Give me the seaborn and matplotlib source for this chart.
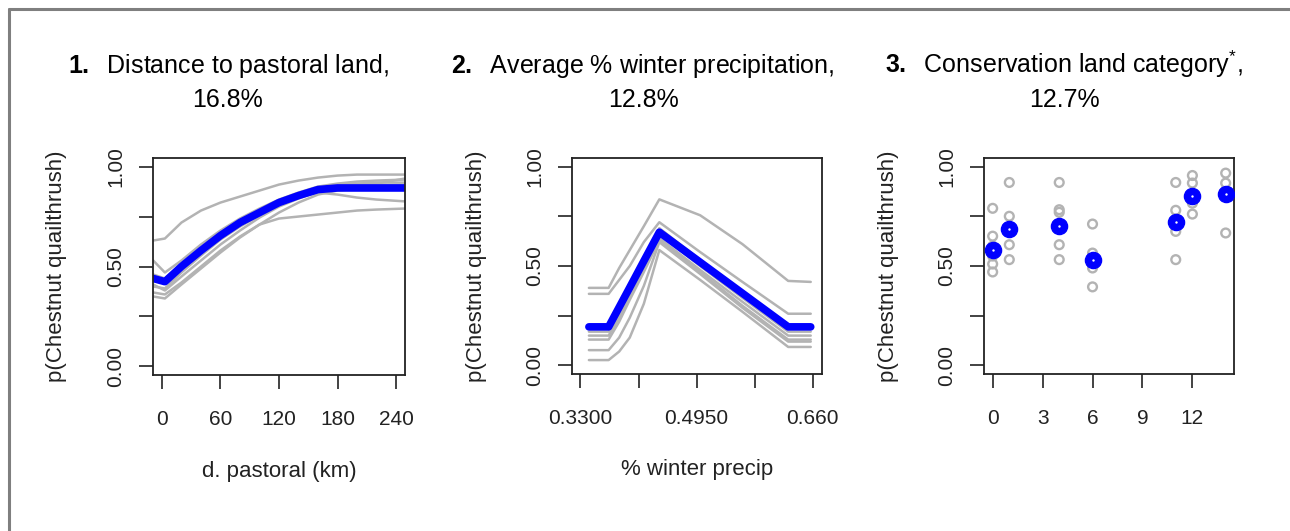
import numpy as np
import pandas as pd
import matplotlib
matplotlib.use('Agg')
import matplotlib.pyplot as plt
from matplotlib.lines import Line2D
import seaborn as sns

# ---- panel 1: distance to pastoral land (km) ----
dist_x = [-9, 3, 20, 40, 60, 80, 100, 120, 140, 160, 180, 200, 220, 249]
dist_mean = [0.44, 0.424, 0.50, 0.58, 0.655, 0.72, 0.77, 0.82, 0.855, 0.885, 0.893, 0.893, 0.893, 0.893]
dist_runs = [
    [0.63, 0.64, 0.72, 0.78, 0.82, 0.85, 0.88, 0.91, 0.93, 0.945, 0.955, 0.96, 0.96, 0.96],
    [0.37, 0.36, 0.42, 0.50, 0.58, 0.65, 0.71, 0.74, 0.75, 0.76, 0.77, 0.78, 0.785, 0.79],
    [0.40, 0.39, 0.47, 0.555, 0.635, 0.70, 0.755, 0.805, 0.845, 0.87, 0.86, 0.845, 0.835, 0.826],
    [0.53, 0.47, 0.53, 0.61, 0.68, 0.74, 0.79, 0.835, 0.87, 0.90, 0.915, 0.925, 0.93, 0.935],
    [0.46, 0.44, 0.51, 0.59, 0.665, 0.73, 0.78, 0.83, 0.865, 0.895, 0.91, 0.915, 0.92, 0.92],
    [0.41, 0.38, 0.45, 0.53, 0.61, 0.68, 0.745, 0.80, 0.84, 0.875, 0.89, 0.90, 0.905, 0.91],
    [0.35, 0.34, 0.41, 0.49, 0.57, 0.645, 0.71, 0.77, 0.82, 0.86, 0.88, 0.89, 0.895, 0.90],
    [0.45, 0.43, 0.49, 0.57, 0.645, 0.71, 0.765, 0.815, 0.855, 0.88, 0.90, 0.91, 0.915, 0.94],
]

# ---- panel 2: average % winter precipitation ----
wp_x = [0.342, 0.370, 0.385, 0.400, 0.420, 0.442, 0.50, 0.56, 0.625, 0.657]
wp_mean = [0.194, 0.194, 0.293, 0.392, 0.525, 0.670, 0.519, 0.363, 0.194, 0.194]
wp_runs = [
    [0.39, 0.39, 0.49, 0.58, 0.70, 0.835, 0.755, 0.61, 0.425, 0.42],
    [0.36, 0.36, 0.43, 0.50, 0.62, 0.72, 0.57, 0.42, 0.26, 0.26],
    [0.17, 0.17, 0.26, 0.37, 0.51, 0.66, 0.50, 0.34, 0.17, 0.17],
    [0.15, 0.15, 0.24, 0.35, 0.49, 0.64, 0.48, 0.32, 0.15, 0.15],
    [0.13, 0.13, 0.22, 0.33, 0.47, 0.63, 0.47, 0.30, 0.13, 0.13],
    [0.077, 0.077, 0.14, 0.24, 0.40, 0.62, 0.46, 0.29, 0.12, 0.12],
    [0.027, 0.027, 0.07, 0.14, 0.31, 0.58, 0.43, 0.27, 0.093, 0.093],
    [0.19, 0.19, 0.29, 0.39, 0.53, 0.69, 0.53, 0.36, 0.20, 0.20],
]

# ---- panel 3: conservation land category ----
cat_x = [0, 1, 4, 6, 11, 12, 14]
cat_mean = [0.578, 0.687, 0.699, 0.532, 0.721, 0.853, 0.861]
cat_runs = {
    0: [0.79, 0.65, 0.60, 0.55, 0.51, 0.47],
    1: [0.92, 0.75, 0.607, 0.532],
    4: [0.92, 0.783, 0.77, 0.607, 0.532],
    6: [0.711, 0.565, 0.49, 0.395],
    11: [0.92, 0.78, 0.674, 0.532],
    12: [0.955, 0.917, 0.816, 0.761],
    14: [0.967, 0.917, 0.666],
}

titles = [r"$\mathbf{1.}$  Distance to pastoral land,",
          r"$\mathbf{2.}$  Average % winter precipitation,",
          r"$\mathbf{3.}$  Conservation land category$^{*}$,"]
title_pct = ["16.8%", "12.8%", "12.7%"]
ylab = "p(Chestnut quailthrush)"

sns.set_theme(style='ticks')
plt.rcParams['font.family'] = ['Liberation Sans', 'DejaVu Sans']
plt.rcParams['mathtext.fontset'] = 'custom'
plt.rcParams['mathtext.rm'] = 'Liberation Sans'
plt.rcParams['mathtext.it'] = 'Liberation Sans:italic'
plt.rcParams['mathtext.bf'] = 'Liberation Sans:bold'

W, H = 1290, 531
fig = plt.figure(figsize=(W / 100, H / 100), dpi=100)
fig.patch.set_facecolor('white')

def px_axes(left, right, top, bottom):
    return fig.add_axes([left / W, (H - bottom) / H, (right - left) / W, (bottom - top) / H])

axes = [px_axes(153, 405, 158, 375), px_axes(572, 822, 158, 374), px_axes(984, 1234, 158, 374)]

gray = '#b3b3b3'
blue = '#0000ff'

def long_runs(xs, runs):
    rows = []
    for i, r in enumerate(runs):
        for x, y in zip(xs, r):
            rows.append((i, x, y))
    return pd.DataFrame(rows, columns=['run', 'x', 'y'])

# panel 1
ax = axes[0]
sns.lineplot(data=long_runs(dist_x, dist_runs), x='x', y='y', units='run', estimator=None,
             color=gray, lw=1.8, ax=ax)
sns.lineplot(x=dist_x, y=dist_mean, color=blue, lw=5.5, ax=ax)
ax.set_xlim(-9.2, 249.2)
ax.set_xticks([0, 60, 120, 180, 240])
ax.set_xlabel("d. pastoral (km)")

# panel 2
ax = axes[1]
sns.lineplot(data=long_runs(wp_x, wp_runs), x='x', y='y', units='run', estimator=None,
             color=gray, lw=1.8, ax=ax)
sns.lineplot(x=wp_x, y=wp_mean, color=blue, lw=5.5, ax=ax)
ax.set_xlim(0.318, 0.673)
ax.set_xticks([0.33, 0.4125, 0.495, 0.5775, 0.66], labels=['0.3300', '', '0.4950', '', '0.660'])
ax.set_xlabel("% winter precip")

# panel 3
ax = axes[2]
cdf = pd.DataFrame([(k, v) for k, vals in cat_runs.items() for v in vals], columns=['x', 'y'])
sns.scatterplot(data=cdf, x='x', y='y', marker='o', s=40, facecolors='none',
                edgecolors=gray, linewidths=1.7, ax=ax)
sns.scatterplot(x=cat_x, y=cat_mean, marker='o', s=135, color=blue, edgecolor=blue,
                linewidth=1, ax=ax, zorder=5)
sns.scatterplot(x=cat_x, y=cat_mean, marker='o', s=3, color='white', edgecolor='white',
                linewidth=0, ax=ax, zorder=6)
ax.set_xlim(-0.52, 14.5)
ax.set_xticks([0, 3, 6, 9, 12])
ax.set_xlabel("")

for i, ax in enumerate(axes):
    ax.set_ylim(-0.043, 1.043)
    ax.set_yticks([0, 0.25, 0.5, 0.75, 1.0], labels=['0.00', '', '0.50', '', '1.00'])
    ax.tick_params(axis='both', direction='out', length=10, width=1.2, colors='#222222',
                   labelsize=15, labelcolor='#222222')
    ax.tick_params(axis='x', pad=15)
    ax.tick_params(axis='y', pad=10, labelrotation=90)
    for lbl in ax.get_yticklabels():
        lbl.set_va('center')
    for sp in ax.spines.values():
        sp.set_visible(True)
        sp.set_linewidth(1.3)
        sp.set_color('#222222')
    ax.set_ylabel(ylab, fontsize=16, color='#222222')
    ax.yaxis.set_label_coords(-0.34, 0.5)
    ax.xaxis.label.set_fontsize(16)
    ax.xaxis.label.set_color('#222222')
    ax.xaxis.set_label_coords(0.5, -0.395)
    ax.set_facecolor('white')

title_cx = [228, 643, 1064]
for cx, t, p in zip(title_cx, titles, title_pct):
    fig.text(cx / W, (H - 73) / H, t, ha='center', va='baseline', fontsize=18, color='black')
    fig.text(cx / W, (H - 107) / H, p, ha='center', va='baseline', fontsize=18, color='black')

# frame lines at the top and left edge of the figure
fig.add_artist(Line2D([8.5 / W, 8.5 / W], [0, (H - 9) / H], color='#7f7f7f', lw=2.2))
fig.add_artist(Line2D([8.5 / W, 1], [(H - 9) / H, (H - 9) / H], color='#7f7f7f', lw=2.2))

fig.savefig('out.png', dpi=100, facecolor='white')
